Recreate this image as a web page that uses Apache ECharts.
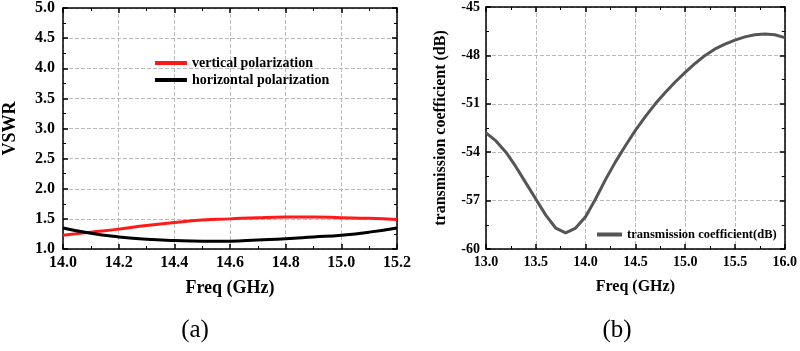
<!DOCTYPE html>
<html>
<head>
<meta charset="utf-8">
<script src="https://cdn.jsdelivr.net/npm/echarts@6/dist/echarts.min.js"></script>
<style>
html, body { margin: 0; padding: 0; background: #fff; }
#main { width: 800px; height: 351px; }
</style>
</head>
<body>
<div id="main"></div>
<script>
// (a) VSWR
var freqA = [14.0, 14.1, 14.2, 14.3, 14.4, 14.5, 14.6, 14.7, 14.8, 14.9, 15.0, 15.1, 15.2];
var vertical = [1.23, 1.28, 1.33, 1.39, 1.44, 1.48, 1.50, 1.52, 1.53, 1.53, 1.52, 1.51, 1.49];
var horizontal = [1.35, 1.26, 1.20, 1.16, 1.14, 1.13, 1.13, 1.15, 1.17, 1.20, 1.23, 1.28, 1.35];

// (b) transmission coefficient
var freqB = [13.0, 13.1, 13.2, 13.3, 13.4, 13.5, 13.6, 13.7, 13.8, 13.9, 14.0, 14.1, 14.2, 14.3, 14.4, 14.5,
    14.6, 14.7, 14.8, 14.9, 15.0, 15.1, 15.2, 15.3, 15.4, 15.5, 15.6, 15.7, 15.8, 15.9, 16.0];
var trans = [-52.8, -53.3, -54.0, -54.9, -55.9, -56.9, -57.9, -58.7, -59.0, -58.7, -58.0, -56.9, -55.7, -54.6,
    -53.6, -52.65, -51.8, -51.0, -50.3, -49.65, -49.05, -48.5, -48.0, -47.6, -47.3, -47.05, -46.85, -46.72,
    -46.68, -46.72, -46.9];

function pairs(xs, ys) {
    return xs.map(function(x, i) { return [x, ys[i]]; });
}

var font = "'Liberation Serif', 'Times New Roman', serif";
var axisLine = { lineStyle: { color: '#000', width: 1.5 } };
var tick = { inside: true, length: 5, lineStyle: { color: '#000', width: 1.5 } };
var minor = { show: true, splitNumber: 2, length: 3, lineStyle: { color: '#000', width: 1 } };
var split = { show: true, lineStyle: { color: '#bbb', type: 'dashed', width: 1 } };

function txt(size) {
    return { color: '#000', fontFamily: font, fontWeight: 'bold', fontSize: size };
}

function mainX(grid, min, max, interval, dec, lblSize, nameSize) {
    return {
        type: 'value', gridIndex: grid, min: min, max: max, interval: interval,
        name: 'Freq (GHz)', nameLocation: 'middle', nameGap: 30, nameTextStyle: txt(nameSize),
        axisLine: axisLine, axisTick: tick, minorTick: minor, splitLine: split,
        axisLabel: Object.assign({ margin: 6, formatter: function(v) { return v.toFixed(dec); } }, txt(lblSize))
    };
}
function mirror(grid, min, max, interval, pos) {
    return {
        type: 'value', gridIndex: grid, min: min, max: max, interval: interval, position: pos,
        axisLine: axisLine, axisTick: tick, minorTick: minor, splitLine: { show: false },
        axisLabel: { show: false }
    };
}
function mainY(grid, min, max, interval, name, dec, lblSize, nameSize, gap, margin) {
    return {
        type: 'value', gridIndex: grid, min: min, max: max, interval: interval,
        name: name, nameLocation: 'middle', nameGap: gap, nameTextStyle: txt(nameSize),
        axisLine: axisLine, axisTick: tick, minorTick: minor, splitLine: split,
        axisLabel: Object.assign({ margin: margin, formatter: function(v) { return v.toFixed(dec); } }, txt(lblSize))
    };
}

var chart = echarts.init(document.getElementById('main'));
var option = {
    animation: false,
    title: [
        { text: '(a)', left: 190, top: 313, textAlign: 'center',
          textStyle: { fontFamily: font, fontWeight: 'normal', fontSize: 25, color: '#000' } },
        { text: '(b)', left: 612, top: 313, textAlign: 'center',
          textStyle: { fontFamily: font, fontWeight: 'normal', fontSize: 25, color: '#000' } }
    ],
    legend: [
        { data: ['vertical polarization', 'horizontal polarization'], orient: 'vertical',
          left: 150, top: 51, itemWidth: 32, itemHeight: 4, itemGap: 3,
          textStyle: txt(14), icon: 'rect' },
        { data: ['transmission coefficient(dB)'], left: 592, top: 223, itemWidth: 25, itemHeight: 4,
          textStyle: txt(12.5), icon: 'rect' }
    ],
    grid: [
        { left: 58, right: 403, top: 6, bottom: 102 },
        { left: 486, right: 13, top: 6, bottom: 102 }
    ],
    xAxis: [
        mainX(0, 14.0, 15.2, 0.2, 1, 16, 18),
        mirror(0, 14.0, 15.2, 0.2, 'top'),
        mainX(1, 13.0, 16.0, 0.5, 1, 14, 16),
        mirror(1, 13.0, 16.0, 0.5, 'top')
    ],
    yAxis: [
        mainY(0, 1.0, 5.0, 0.5, 'VSWR', 1, 16, 18, 44, 8),
        mirror(0, 1.0, 5.0, 0.5, 'right'),
        mainY(1, -60, -45, 3, 'transmission coefficient (dB)', 0, 14, 16, 37, 6),
        mirror(1, -60, -45, 3, 'right')
    ],
    series: [
        { name: 'vertical polarization', type: 'line', xAxisIndex: 0, yAxisIndex: 0,
          data: pairs(freqA, vertical), smooth: true, symbol: 'none',
          lineStyle: { color: '#ff1a1a', width: 3 }, itemStyle: { color: '#ff1a1a' } },
        { name: 'horizontal polarization', type: 'line', xAxisIndex: 0, yAxisIndex: 0,
          data: pairs(freqA, horizontal), smooth: true, symbol: 'none',
          lineStyle: { color: '#000', width: 3 }, itemStyle: { color: '#000' } },
        { name: 'transmission coefficient(dB)', type: 'line', xAxisIndex: 2, yAxisIndex: 2,
          data: pairs(freqB, trans), smooth: false, symbol: 'none',
          lineStyle: { color: '#555', width: 3 }, itemStyle: { color: '#555' } }
    ]
};
chart.setOption(option);
</script>
</body>
</html>
